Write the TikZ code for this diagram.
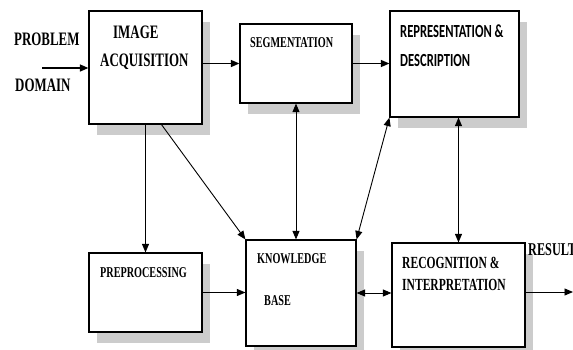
\documentclass[tikz,border=0pt]{standalone}
\usepackage{fontspec}
\setmainfont[FakeStretch=0.68]{Liberation Serif}
\newfontfamily\repfont[FakeStretch=0.68]{Carlito}
\usetikzlibrary{arrows.meta,shadows}
\begin{document}
\begin{tikzpicture}[x=1pt,y=-1pt,
  box/.style={draw=black,line width=1.2pt,fill=white,inner sep=0pt,
    drop shadow={shadow xshift=8pt,shadow yshift=-11pt,fill=black!20,opacity=1}},
  arr/.style={line width=0.9pt,-{Triangle[length=8.5pt,width=7pt]}},
  darr/.style={line width=0.9pt,{Triangle[length=8.5pt,width=7pt]}-{Triangle[length=8.5pt,width=7pt]}},
  lbl/.style={anchor=base west,inner sep=0pt,font=\bfseries}]
\useasboundingbox (0,0) rectangle (573,349);
% boxes
\node[box,minimum width=113pt,minimum height=113pt] (ia) at (145.5,67.5) {};
\node[box,minimum width=112pt,minimum height=79pt] (seg) at (296,63.5) {};
\node[box,minimum width=129pt,minimum height=106pt] (rep) at (454.5,64) {};
\node[box,minimum width=113pt,minimum height=79pt] (pre) at (145.5,292.5) {};
\node[box,minimum width=110pt,minimum height=106pt] (kb) at (301,293) {};
\node[box,minimum width=133pt,minimum height=104pt] (rec) at (458.5,295) {};
% labels
\node[lbl,font=\bfseries\fontsize{19}{19}\selectfont] (tprob) at (14,45) {PROBLEM};
\node[lbl,font=\bfseries\fontsize{19}{19}\selectfont] (tdom) at (15,91) {DOMAIN};
\node[lbl,font=\bfseries\fontsize{19}{19}\selectfont] (timg) at (113,38) {IMAGE};
\node[lbl,font=\bfseries\fontsize{19}{19}\selectfont] (tacq) at (100,66) {ACQUISITION};
\node[lbl,font=\bfseries\fontsize{15}{15}\selectfont] (tseg) at (250,47) {SEGMENTATION};
\node[lbl,font=\repfont\bfseries\fontsize{18.5}{18.5}\selectfont] (trep) at (400,37) {REPRESENTATION \&};
\node[lbl,font=\repfont\bfseries\fontsize{18.5}{18.5}\selectfont] (tdesc) at (400,66) {DESCRIPTION};
\node[lbl,font=\bfseries\fontsize{15}{15}\selectfont] (tpre) at (100,277) {PREPROCESSING};
\node[lbl,font=\bfseries\fontsize{15}{15}\selectfont] (tkn) at (257,263) {KNOWLEDGE};
\node[lbl,font=\bfseries\fontsize{15}{15}\selectfont] (tbase) at (264,305) {BASE};
\node[lbl,font=\bfseries\fontsize{17}{17}\selectfont] (trec) at (402,268) {RECOGNITION \&};
\node[lbl,font=\bfseries\fontsize{17}{17}\selectfont] (tint) at (402,290) {INTERPRETATION};
\node[lbl,font=\bfseries\fontsize{18}{18}\selectfont] (tres) at (528,255) {RESULT};
% connectors
\coordinate (pin) at (42,68);
\coordinate (out) at (573,292);
\draw[arr,line width=1.4pt] (pin) -- (pin -| ia.west);
\draw[arr,line width=1.4pt] (ia.east |- seg.west) -- (seg.west);
\draw[arr,line width=1.2pt] (seg.east) -- (seg.east -| rep.west);
\draw[arr] (ia.south) -- (pre.north);
\draw[arr] ([xshift=16pt]ia.south) -- (kb.north west);
\draw[darr] (seg.south) -- (seg.south |- kb.north);
\draw[darr] (kb.north east) -- (rep.south west);
\draw[darr] (rep.south -| rec.north) -- (rec.north);
\draw[arr] (pre.east) -- (pre.east -| kb.west);
\draw[darr] (kb.east) -- (kb.east -| rec.west);
\draw[arr] (rec.east |- out) -- (out);
\end{tikzpicture}
\end{document}
